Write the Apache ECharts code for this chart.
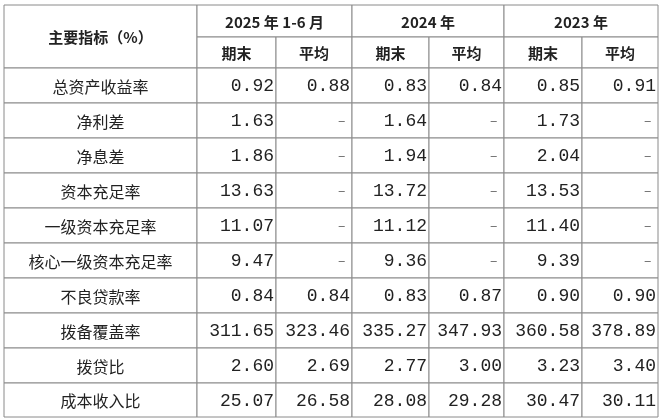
<!DOCTYPE html>
<html><head><meta charset="utf-8">
<script src="https://cdn.jsdelivr.net/npm/echarts@6/dist/echarts.min.js"></script>
<style>html,body{margin:0;padding:0;background:#fff}#c{width:660px;height:418px}</style>
</head><body><div id="c"></div>
<script>
const indicators = ['总资产收益率','净利差','净息差','资本充足率','一级资本充足率','核心一级资本充足率','不良贷款率','拨备覆盖率','拨贷比','成本收入比'];
const periods = ['2025 年 1-6 月','2024 年','2023 年'];
const subHeads = ['期末','平均'];
const end2025 = ['0.92','1.63','1.86','13.63','11.07','9.47','0.84','311.65','2.60','25.07'];
const avg2025 = ['0.88','-','-','-','-','-','0.84','323.46','2.69','26.58'];
const end2024 = ['0.83','1.64','1.94','13.72','11.12','9.36','0.83','335.27','2.77','28.08'];
const avg2024 = ['0.84','-','-','-','-','-','0.87','347.93','3.00','29.28'];
const end2023 = ['0.85','1.73','2.04','13.53','11.40','9.39','0.90','360.58','3.23','30.47'];
const avg2023 = ['0.91','-','-','-','-','-','0.90','378.89','3.40','30.11'];
const headTitle = '主要指标（%）';

const colX = [4,197,276,352,429,504,582,658];
const rowY = [5,37,68,103,138,173,208,243,278,313,348,383,417];

const cells = [];
cells.push([0,1,0,2,headTitle,1,'center']);
periods.forEach((p,i)=>cells.push([1+2*i,3+2*i,0,1,p,1,'center']));
for(let i=0;i<3;i++) subHeads.forEach((s,j)=>cells.push([1+2*i+j,2+2*i+j,1,2,s,1,'center']));
const cols=[end2025,avg2025,end2024,avg2024,end2023,avg2023];
indicators.forEach((n,r)=>{
  cells.push([0,1,r+2,r+3,n,0,'center']);
  cols.forEach((arr,c)=>cells.push([c+1,c+2,r+2,r+3,arr[r],2,'right']));
});

const chart = echarts.init(document.getElementById('c'));
chart.setOption({
  animation:false,
  grid:{left:0,right:0,top:0,bottom:0},
  xAxis:{type:'value',min:0,max:660,show:false},
  yAxis:{type:'value',min:0,max:418,inverse:true,show:false},
  series:[{
    type:'custom',
    data:cells.map(c=>[colX[c[0]],rowY[c[2]],colX[c[1]],rowY[c[3]]]),
    renderItem:(params,api)=>{
      const d=cells[params.dataIndex];
      const p0=api.coord([api.value(0),api.value(1)]);
      const p1=api.coord([api.value(2),api.value(3)]);
      const w=p1[0]-p0[0],h=p1[1]-p0[1];
      const isDash=d[4]==='-';
      const tx=d[6]==='right'?p1[0]-(isDash?6:2):p0[0]+w/2;
      let font;
      if(d[5]===1) font='bold 15px "Noto Sans CJK SC"';
      else if(d[5]===2) font='18px "Liberation Mono"';
      else font='16px "Noto Sans CJK SC"';
      return {type:'group',children:[
        {type:'rect',shape:{x:p0[0],y:p0[1],width:w,height:h},style:{fill:'#fff',stroke:'#8a8a8a',lineWidth:1}},
        {type:'text',style:{x:tx,y:p0[1]+h/2+1,text:isDash?'–':d[4],align:d[6],verticalAlign:'middle',
          font:isDash?'14px "Liberation Mono"':font,fill:isDash?'#777':'#222'}}
      ]};
    }
  }]
});
</script></body></html>
